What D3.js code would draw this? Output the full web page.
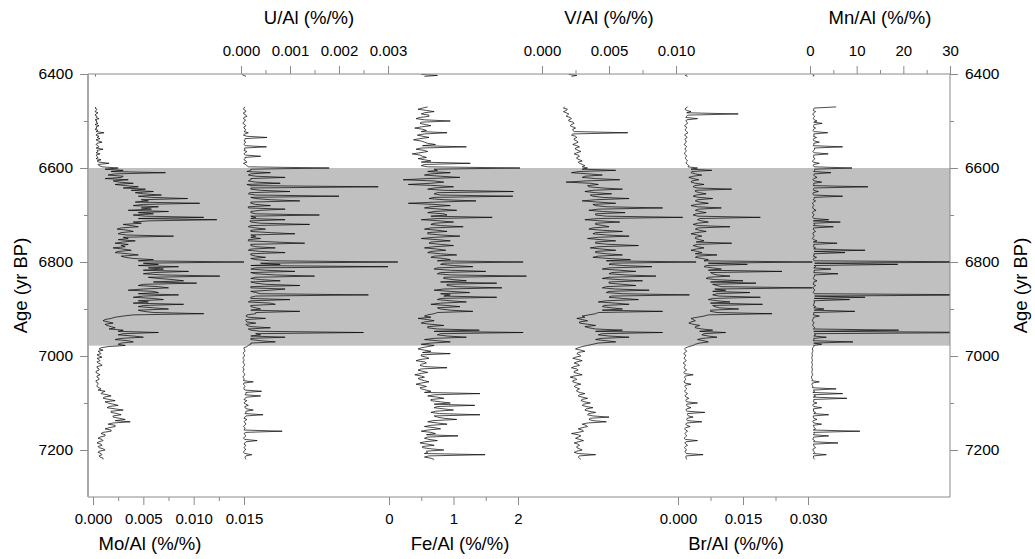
<!DOCTYPE html>
<html><head><meta charset="utf-8">
<script src="https://cdn.jsdelivr.net/npm/d3@7"></script>
<style>body{margin:0;background:#fff}</style>
</head><body><svg id="c" width="1035" height="559"></svg>
<script>
// ---------- DATA ----------
const ages = [
6470,6472.5,6475,6477.5,6480,6482.5,6485,6487.5,6490,6492.5,6495,6497.5,6500,6502.5,6505,6507.5,6510,6512.5,6515,6517.5,
6520,6522.5,6525,6527.5,6530,6532.5,6535,6537.5,6540,6542.5,6545,6547.5,6550,6552.5,6555,6557.5,6560,6562.5,6565,6567.5,
6570,6572.5,6575,6577.5,6580,6582.5,6585,6587.5,6590,6592.5,6595,6597.5,6600,6602.5,6605,6607.5,6610,6612.5,6615,6617.5,
6620,6622.5,6625,6627.5,6630,6632.5,6635,6637.5,6640,6642.5,6645,6647.5,6650,6652.5,6655,6657.5,6660,6662.5,6665,6667.5,
6670,6672.5,6675,6677.5,6680,6682.5,6685,6687.5,6690,6692.5,6695,6697.5,6700,6702.5,6705,6707.5,6710,6712.5,6715,6717.5,
6720,6722.5,6725,6727.5,6730,6732.5,6735,6737.5,6740,6742.5,6745,6747.5,6750,6752.5,6755,6757.5,6760,6762.5,6765,6767.5,
6770,6772.5,6775,6777.5,6780,6782.5,6785,6787.5,6790,6792.5,6795,6797.5,6800,6802.5,6805,6807.5,6810,6812.5,6815,6817.5,
6820,6822.5,6825,6827.5,6830,6832.5,6835,6837.5,6840,6842.5,6845,6847.5,6850,6852.5,6855,6857.5,6860,6862.5,6865,6867.5,
6870,6872.5,6875,6877.5,6880,6882.5,6885,6887.5,6890,6892.5,6895,6897.5,6900,6902.5,6905,6907.5,6910,6912.5,6915,6917.5,
6920,6922.5,6925,6927.5,6930,6932.5,6935,6937.5,6940,6942.5,6945,6947.5,6950,6952.5,6955,6957.5,6960,6962.5,6965,6967.5,
6970,6972.5,6975,6977.5,6980,6982.5,6985,6987.5,6990,6992.5,6995,6997.5,7000,7002.5,7005,7007.5,7010,7012.5,7015,7017.5,
7020,7022.5,7025,7027.5,7030,7032.5,7035,7037.5,7040,7042.5,7045,7047.5,7050,7052.5,7055,7057.5,7060,7062.5,7065,7067.5,
7070,7072.5,7075,7077.5,7080,7082.5,7085,7087.5,7090,7092.5,7095,7097.5,7100,7102.5,7105,7107.5,7110,7112.5,7115,7117.5,
7120,7122.5,7125,7127.5,7130,7132.5,7135,7137.5,7140,7142.5,7145,7147.5,7150,7152.5,7155,7157.5,7160,7162.5,7165,7167.5,
7170,7172.5,7175,7177.5,7180,7182.5,7185,7187.5,7190,7192.5,7195,7197.5,7200,7202.5,7205,7207.5,7210,7212.5,7215,7217.5,
7220];
const moAl = [
0.0003,0.0002,0.0004,0.0003,0.0002,0.0005,0.0003,0.0002,0.0004,0.0003,0.0006,0.0002,0.0004,0.0003,0.0005,0.0002,0.0006,0.0003,0.0004,0.0002,
0.0005,0.0003,0.0011,0.0004,0.0003,0.0006,0.0004,0.0007,0.0003,0.0005,0.0009,0.0004,0.0003,0.0005,0.0006,0.0003,0.0010,0.0004,0.0005,0.0003,
0.0007,0.0003,0.0004,0.0005,0.0003,0.0008,0.0004,0.0006,0.0016,0.0005,0.0006,0.0009,0.0025,0.0012,0.0030,0.0018,0.0072,0.0022,0.0015,0.0030,
0.0028,0.0012,0.0035,0.0020,0.0026,0.0040,0.0022,0.0032,0.0045,0.0030,0.0052,0.0038,0.0060,0.0042,0.0050,0.0068,0.0045,0.0058,0.0094,0.0048,
0.0055,0.0042,0.0106,0.0050,0.0040,0.0065,0.0048,0.0058,0.0035,0.0075,0.0045,0.0060,0.0040,0.0052,0.0110,0.0045,0.0123,0.0055,0.0040,0.0048,
0.0030,0.0038,0.0045,0.0028,0.0024,0.0035,0.0040,0.0028,0.0025,0.0033,0.0080,0.0030,0.0035,0.0025,0.0042,0.0030,0.0022,0.0035,0.0028,0.0032,
0.0020,0.0030,0.0038,0.0025,0.0022,0.0035,0.0045,0.0028,0.0032,0.0040,0.0060,0.0045,0.0150,0.0050,0.0065,0.0045,0.0085,0.0055,0.0070,0.0050,
0.0095,0.0060,0.0050,0.0070,0.0126,0.0055,0.0065,0.0080,0.0090,0.0060,0.0103,0.0050,0.0045,0.0065,0.0075,0.0050,0.0035,0.0060,0.0065,0.0045,
0.0085,0.0050,0.0040,0.0060,0.0070,0.0045,0.0055,0.0040,0.0090,0.0050,0.0045,0.0060,0.0075,0.0045,0.0050,0.0060,0.0110,0.0040,0.0030,0.0022,
0.0018,0.0012,0.0010,0.0015,0.0020,0.0012,0.0014,0.0018,0.0022,0.0016,0.0030,0.0025,0.0065,0.0030,0.0025,0.0040,0.0050,0.0028,0.0022,0.0035,
0.0040,0.0028,0.0025,0.0032,0.0015,0.0008,0.0006,0.0010,0.0005,0.0007,0.0008,0.0004,0.0006,0.0009,0.0004,0.0006,0.0007,0.0004,0.0005,0.0008,
0.0009,0.0004,0.0004,0.0006,0.0006,0.0003,0.0003,0.0005,0.0007,0.0004,0.0004,0.0006,0.0006,0.0003,0.0003,0.0005,0.0005,0.0004,0.0004,0.0006,
0.0008,0.0005,0.0012,0.0009,0.0008,0.0014,0.0018,0.0011,0.0010,0.0016,0.0022,0.0012,0.0015,0.0020,0.0025,0.0016,0.0014,0.0022,0.0030,0.0018,
0.0018,0.0024,0.0028,0.0020,0.0020,0.0026,0.0032,0.0022,0.0037,0.0020,0.0015,0.0022,0.0022,0.0016,0.0012,0.0018,0.0018,0.0010,0.0008,0.0012,
0.0012,0.0007,0.0005,0.0009,0.0010,0.0006,0.0004,0.0008,0.0009,0.0005,0.0006,0.0010,0.0012,0.0006,0.0005,0.0008,0.0009,0.0006,0.0007,0.0010,
0.0010];
const uAl = [
0.00008,0.00006,0.00005,0.00009,0.0001,0.00005,0.00006,0.0001,0.00012,0.00006,0.00005,0.00009,0.00008,0.00005,0.00004,0.00008,0.0001,0.00006,0.00006,0.00009,
0.00009,0.00006,0.00015,0.00008,0.00005,0.00012,0.00053,0.00008,0.00008,0.00006,0.0001,0.00007,0.00006,0.00009,0.00052,0.00007,0.00008,0.00006,0.00012,0.00008,
0.00006,0.00009,0.0004,0.00008,0.00008,0.00006,0.0001,0.00012,0.00005,0.00009,0.00012,0.00015,0.0018,0.0002,0.0002,0.00012,0.0006,0.0002,0.00015,0.0003,
0.0009,0.0002,0.0002,0.00015,0.0003,0.0008,0.00012,0.0002,0.0028,0.0002,0.0002,0.0004,0.0010,0.00018,0.00015,0.0003,0.0020,0.0002,0.0003,0.0006,
0.0012,0.0002,0.0002,0.0003,0.0006,0.00015,0.00015,0.0009,0.0004,0.0002,0.0002,0.0003,0.0016,0.0002,0.0003,0.0002,0.0009,0.00018,0.0002,0.0004,
0.0014,0.0002,0.00015,0.0003,0.0005,0.0002,0.0002,0.0006,0.0011,0.0002,0.0003,0.0002,0.0004,0.00015,0.00015,0.0007,0.0013,0.0002,0.0002,0.0003,
0.0007,0.0002,0.00015,0.0004,0.0009,0.0002,0.0002,0.0003,0.0005,0.0002,0.0003,0.0006,0.0032,0.0004,0.0008,0.0002,0.0030,0.0003,0.0002,0.0005,
0.0011,0.0002,0.0003,0.0007,0.0015,0.0003,0.0002,0.0004,0.0008,0.0002,0.0003,0.0005,0.0012,0.0002,0.0002,0.0009,0.0006,0.0002,0.0003,0.0004,
0.0026,0.0003,0.0002,0.0002,0.0010,0.0002,0.00015,0.0006,0.0007,0.0002,0.0002,0.0003,0.0004,0.0002,0.0012,0.0003,0.0003,0.00012,0.0001,0.00015,
0.0005,0.0001,0.0001,0.00012,0.0003,0.0001,0.00012,0.0002,0.0006,0.00015,0.0002,0.0004,0.0025,0.0003,0.0004,0.0002,0.0009,0.0002,0.0002,0.0004,
0.0007,0.0002,0.0002,0.00015,0.00012,0.00006,0.00006,0.00008,0.00008,0.00005,0.00005,0.00007,0.00007,0.00005,0.00004,0.00006,0.00006,0.00004,0.00005,0.00007,
0.00007,0.00005,0.00004,0.00006,0.00006,0.00004,0.00005,0.00007,0.00008,0.00005,0.00004,0.00006,0.00006,0.00005,0.00025,0.00006,0.00005,0.00007,0.00008,0.00006,
0.00006,0.00008,0.00042,0.0001,0.0001,0.00008,0.0004,0.00012,0.00008,0.00006,0.00012,0.00008,0.00006,0.0001,0.00015,0.00008,0.00008,0.00012,0.00025,0.0001,
0.0001,0.00008,0.00045,0.0001,0.00008,0.00006,0.00012,0.00008,0.00006,0.00009,0.0001,0.00007,0.00005,0.00008,0.00008,0.00006,0.00084,0.0001,0.00006,0.00008,
0.0001,0.00007,0.00005,0.00008,0.00033,0.0001,0.00008,0.00006,0.0001,0.00008,0.00006,0.00009,0.00009,0.00006,0.00005,0.00008,0.00022,0.0001,0.00008,0.00009,
0.0001];
const feAl = [
0.60,0.52,0.45,0.58,0.70,0.55,0.50,0.62,0.62,0.48,0.42,0.55,0.95,0.50,0.48,0.56,0.65,0.50,0.40,0.52,
0.58,0.50,0.90,0.55,0.44,0.52,0.62,0.48,0.38,0.50,0.55,0.60,0.72,0.52,1.20,0.50,0.42,0.55,0.60,0.48,
0.36,0.48,0.52,0.58,0.45,0.55,0.65,0.50,1.26,0.55,0.50,0.60,2.03,0.70,0.75,0.60,0.95,0.65,0.55,0.80,
1.10,0.60,0.22,0.70,0.85,0.65,0.30,0.75,1.00,0.70,0.60,0.85,1.93,0.75,0.70,0.80,1.92,0.70,0.62,0.85,
1.35,0.75,0.30,0.70,0.95,0.65,0.55,0.80,1.05,0.70,0.60,0.85,0.90,0.65,1.60,0.75,0.50,0.80,1.00,0.70,
0.65,0.80,1.15,0.65,0.55,0.75,0.90,0.60,0.60,0.80,1.10,0.70,0.50,0.75,0.95,0.65,0.62,0.80,1.00,0.70,
0.55,0.75,0.88,0.65,0.60,0.80,1.05,0.70,0.65,0.85,0.95,0.75,2.08,0.85,0.80,1.00,1.30,0.75,0.70,0.95,
1.50,0.80,0.75,0.95,2.13,0.85,0.85,1.00,1.20,0.80,1.67,0.90,0.90,1.05,1.75,0.85,0.70,0.95,1.25,0.80,
0.95,0.85,1.67,0.80,0.75,0.95,1.20,0.80,0.65,0.90,1.10,0.75,0.80,0.95,1.30,0.75,0.70,0.60,0.55,0.65,
0.45,0.60,0.70,0.55,0.50,0.65,0.85,0.60,0.60,0.75,1.40,0.70,2.08,0.80,0.75,0.90,1.20,0.70,0.55,0.75,
0.95,0.65,0.50,0.70,0.60,0.50,0.45,0.55,0.65,0.52,0.95,0.50,0.50,0.58,0.62,0.48,0.42,0.55,0.58,0.50,
0.48,0.55,0.90,0.50,0.45,0.52,0.60,0.48,0.40,0.50,0.55,0.45,0.48,0.55,0.62,0.50,0.42,0.52,0.58,0.48,
0.50,0.58,0.65,0.55,1.41,0.70,0.60,0.75,0.85,0.65,0.65,0.80,0.95,0.70,1.33,0.75,0.70,0.85,1.00,0.72,
0.65,0.78,1.41,0.70,0.75,0.85,1.05,0.68,0.60,0.75,0.90,0.65,0.55,0.70,0.80,0.60,0.50,0.65,0.72,0.58,
1.07,0.60,0.55,0.62,0.75,0.55,0.48,0.60,0.70,0.52,0.52,0.65,0.85,0.58,0.60,0.55,1.49,0.62,0.55,0.65,
0.70];
const vAl = [
0.0017,0.0016,0.0019,0.0018,0.0016,0.0018,0.0020,0.0019,0.0018,0.0021,0.0022,0.0020,0.0020,0.0023,0.0024,0.0022,0.0021,0.0023,0.0025,0.0023,
0.0023,0.0024,0.0064,0.0023,0.0022,0.0025,0.0026,0.0024,0.0024,0.0026,0.0027,0.0025,0.0023,0.0026,0.0028,0.0025,0.0025,0.0027,0.0029,0.0026,
0.0024,0.0027,0.0028,0.0026,0.0026,0.0028,0.0030,0.0027,0.0028,0.0030,0.0032,0.0030,0.0034,0.0030,0.0055,0.0028,0.0022,0.0035,0.0045,0.0032,
0.0030,0.0040,0.0058,0.0033,0.0018,0.0036,0.0042,0.0034,0.0035,0.0045,0.0060,0.0038,0.0032,0.0040,0.0052,0.0036,0.0038,0.0045,0.0065,0.0040,
0.0030,0.0042,0.0055,0.0038,0.0040,0.0048,0.0090,0.0042,0.0035,0.0045,0.0062,0.0040,0.0040,0.0048,0.0105,0.0042,0.0032,0.0044,0.0058,0.0040,
0.0040,0.0046,0.0050,0.0038,0.0035,0.0045,0.0060,0.0040,0.0038,0.0048,0.0065,0.0042,0.0034,0.0044,0.0055,0.0040,0.0040,0.0050,0.0072,0.0042,
0.0036,0.0045,0.0055,0.0040,0.0040,0.0048,0.0060,0.0042,0.0038,0.0050,0.0066,0.0048,0.0115,0.0052,0.0050,0.0060,0.0082,0.0050,0.0045,0.0058,
0.0070,0.0052,0.0050,0.0062,0.0085,0.0050,0.0045,0.0058,0.0075,0.0050,0.0050,0.0060,0.0070,0.0048,0.0045,0.0055,0.0080,0.0050,0.0048,0.0060,
0.0110,0.0052,0.0050,0.0060,0.0072,0.0048,0.0042,0.0055,0.0065,0.0046,0.0045,0.0052,0.0060,0.0045,0.0090,0.0042,0.0040,0.0035,0.0030,0.0032,
0.0026,0.0030,0.0034,0.0028,0.0028,0.0034,0.0040,0.0032,0.0035,0.0040,0.0060,0.0040,0.0090,0.0045,0.0042,0.0050,0.0065,0.0044,0.0040,0.0048,
0.0055,0.0042,0.0038,0.0034,0.0030,0.0027,0.0025,0.0029,0.0032,0.0027,0.0026,0.0028,0.0029,0.0025,0.0023,0.0027,0.0030,0.0026,0.0024,0.0027,
0.0028,0.0024,0.0022,0.0026,0.0027,0.0024,0.0024,0.0027,0.0030,0.0024,0.0021,0.0025,0.0026,0.0023,0.0023,0.0026,0.0029,0.0025,0.0024,0.0026,
0.0028,0.0026,0.0026,0.0028,0.0032,0.0028,0.0027,0.0030,0.0034,0.0030,0.0029,0.0032,0.0036,0.0031,0.0030,0.0033,0.0038,0.0033,0.0032,0.0035,
0.0040,0.0035,0.0034,0.0038,0.0050,0.0036,0.0035,0.0038,0.0048,0.0034,0.0030,0.0033,0.0034,0.0030,0.0027,0.0030,0.0031,0.0027,0.0022,0.0027,
0.0029,0.0027,0.0025,0.0028,0.0031,0.0027,0.0024,0.0027,0.0028,0.0026,0.0026,0.0028,0.0030,0.0026,0.0024,0.0027,0.0040,0.0028,0.0027,0.0028,
0.0029];
const brAl = [
0.0022,0.0018,0.0016,0.0020,0.0030,0.0020,0.0139,0.0022,0.0020,0.0018,0.0045,0.0020,0.0018,0.0021,0.0022,0.0018,0.0015,0.0019,0.0020,0.0017,
0.0017,0.0020,0.0023,0.0018,0.0015,0.0019,0.0021,0.0017,0.0016,0.0019,0.0019,0.0016,0.0014,0.0018,0.0020,0.0017,0.0016,0.0019,0.0018,0.0016,
0.0015,0.0018,0.0020,0.0017,0.0017,0.0020,0.0022,0.0019,0.0019,0.0022,0.0025,0.0023,0.0045,0.0030,0.0078,0.0032,0.0030,0.0040,0.0055,0.0035,
0.0025,0.0035,0.0048,0.0032,0.0030,0.0040,0.0060,0.0038,0.0035,0.0045,0.0124,0.0040,0.0040,0.0050,0.0065,0.0042,0.0035,0.0048,0.0080,0.0045,
0.0040,0.0050,0.0070,0.0042,0.0030,0.0045,0.0100,0.0048,0.0040,0.0050,0.0065,0.0042,0.0035,0.0046,0.0190,0.0050,0.0045,0.0055,0.0070,0.0045,
0.0035,0.0048,0.0120,0.0045,0.0040,0.0050,0.0065,0.0042,0.0030,0.0045,0.0055,0.0040,0.0040,0.0050,0.0060,0.0042,0.0124,0.0045,0.0035,0.0045,
0.0060,0.0042,0.0030,0.0045,0.0055,0.0040,0.0090,0.0045,0.0040,0.0055,0.0070,0.0060,0.0310,0.0070,0.0160,0.0065,0.0060,0.0080,0.0100,0.0070,
0.0240,0.0075,0.0080,0.0090,0.0120,0.0070,0.0065,0.0085,0.0150,0.0075,0.0180,0.0080,0.0090,0.0100,0.0310,0.0085,0.0110,0.0080,0.0166,0.0090,
0.0080,0.0095,0.0190,0.0080,0.0070,0.0090,0.0120,0.0075,0.0195,0.0080,0.0085,0.0095,0.0140,0.0075,0.0075,0.0090,0.0217,0.0070,0.0060,0.0045,
0.0030,0.0035,0.0040,0.0030,0.0025,0.0035,0.0050,0.0040,0.0040,0.0055,0.0080,0.0050,0.0110,0.0060,0.0055,0.0070,0.0090,0.0055,0.0045,0.0060,
0.0070,0.0050,0.0040,0.0035,0.0025,0.0018,0.0015,0.0018,0.0020,0.0016,0.0013,0.0017,0.0018,0.0015,0.0014,0.0017,0.0019,0.0015,0.0012,0.0016,
0.0017,0.0015,0.0014,0.0016,0.0020,0.0016,0.0013,0.0016,0.0035,0.0017,0.0015,0.0017,0.0018,0.0015,0.0014,0.0016,0.0030,0.0017,0.0016,0.0018,
0.0020,0.0017,0.0015,0.0018,0.0022,0.0018,0.0016,0.0019,0.0025,0.0019,0.0018,0.0020,0.0045,0.0020,0.0020,0.0022,0.0030,0.0020,0.0018,0.0021,
0.0062,0.0022,0.0022,0.0024,0.0035,0.0021,0.0020,0.0022,0.0055,0.0020,0.0018,0.0020,0.0028,0.0018,0.0015,0.0018,0.0022,0.0018,0.0016,0.0018,
0.0020,0.0017,0.0014,0.0017,0.0045,0.0018,0.0016,0.0018,0.0022,0.0017,0.0015,0.0017,0.0020,0.0016,0.0017,0.0019,0.0058,0.0019,0.0018,0.0019,
0.0020];
const mnAl = [
5.6,0.9,0.8,0.7,1.2,0.8,0.6,0.7,1.0,0.8,0.7,0.9,1.5,0.8,2.6,0.9,0.8,0.7,1.2,0.8,
0.6,0.9,3.8,0.8,0.9,0.7,1.4,0.8,0.7,0.9,2.0,0.8,0.8,0.7,7.0,0.9,1.0,0.8,0.6,0.9,
3.9,0.8,0.8,0.7,1.1,0.8,0.5,0.7,2.0,0.8,0.7,0.9,9.0,1.0,1.0,0.8,4.5,0.9,0.8,1.0,
1.5,0.8,0.6,0.9,2.5,0.8,0.8,0.7,12.4,0.9,0.7,0.8,1.8,0.7,0.6,0.8,7.0,0.9,0.9,0.7,
1.2,0.8,0.5,0.7,0.8,0.6,0.6,0.8,1.3,0.7,0.5,0.7,0.9,0.6,0.6,0.8,4.0,0.7,6.5,0.8,
1.0,0.7,5.0,0.8,0.7,0.9,1.2,0.7,0.6,0.8,0.9,0.7,0.5,0.8,1.5,0.7,5.8,0.8,0.8,0.7,
1.2,0.8,11.8,0.9,7.5,0.8,0.9,0.7,1.4,0.8,0.7,0.9,40,1.0,18.8,0.9,1.2,0.8,4.5,0.9,
0.9,0.8,6.0,0.9,1.0,0.8,0.7,0.9,1.5,0.8,0.8,0.7,1.2,0.8,0.6,0.9,1.0,0.8,0.7,0.9,
40,1.0,11.8,0.9,8.5,0.8,1.0,0.9,0.8,0.7,1.2,0.8,3.0,0.9,9.6,0.8,0.8,0.7,2.0,0.8,
0.7,0.6,0.5,0.7,0.9,0.6,0.6,0.8,1.0,0.7,19.0,0.8,40,0.9,1.2,0.8,3.5,0.8,0.8,0.7,
9.2,0.8,2.5,0.8,0.8,0.6,0.5,0.6,0.6,0.5,0.4,0.5,0.5,0.4,0.4,0.5,0.5,0.4,0.4,0.5,
0.5,0.4,0.4,0.5,0.5,0.4,0.4,0.5,0.6,0.4,0.3,0.4,0.5,0.4,2.0,0.5,0.4,0.5,0.6,0.5,
5.6,0.7,1.0,0.6,7.0,0.8,1.2,0.7,7.9,0.8,0.8,0.7,1.5,0.7,0.6,0.8,2.5,0.7,0.8,0.7,
1.2,0.8,4.0,0.7,0.7,0.8,1.5,0.7,0.6,0.8,2.5,0.7,0.8,0.9,1.2,0.7,10.7,0.8,0.9,0.7,
4.0,0.8,0.7,0.6,1.0,0.8,6.0,0.7,0.8,0.9,1.2,0.7,0.6,0.8,1.0,0.7,3.5,0.8,0.7,0.8,
1.0];
// isolated samples at the top of the record
const topAges = [6401, 6403, 6405];
const moTop = [0.0002, 0.0003, 0.0002];
const uTop  = [0.00002, 0.00006, 0.0001];
const feTop = [0.50, 0.75, 0.55];
const vTop  = [0.0020, 0.0026, 0.0022];
const brTop = [0.0020, 0.0017, 0.0022];
const mnTop = [0.5, 0.9, 0.6];

const bandAges = [6600, 6978];
const ageMajor = [6400, 6600, 6800, 7000, 7200];
const ageMinor = [6500, 6700, 6900, 7100];

const moTicks = [0, 0.005, 0.010, 0.015];
const uTicks  = [0, 0.001, 0.002, 0.003];
const feTicks = [0, 1, 2];
const vTicks  = [0, 0.005, 0.010];
const brTicks = [0, 0.015, 0.030];
const mnTicks = [0, 10, 20, 30];

// ---------- LAYOUT ----------
const FONT = "'Liberation Sans', Arial, Helvetica, sans-serif";
const L = 88, R = 950, T = 74, B = 497;
const svg = d3.select('#c');
svg.append('rect').attr('width', 1035).attr('height', 559).attr('fill', '#fff');
const y = d3.scaleLinear().domain([6400, 7300]).range([T, B]);

const series = [
  {title: 'Mo/Al (%/%)', vals: moAl, top: moTop, domain: [0, 0.015], range: [93, 244], side: 'bottom', ticks: moTicks, minorStep: 0.0025, fmt: d3.format('.3f'), titleX: 150},
  {title: 'U/Al (%/%)',  vals: uAl,  top: uTop,  domain: [0, 0.003], range: [241, 388], side: 'top', ticks: uTicks, minorStep: 0.0005, fmt: d3.format('.3f'), titleX: 309},
  {title: 'Fe/Al (%/%)', vals: feAl, top: feTop, domain: [0, 2], range: [389, 518], side: 'bottom', ticks: feTicks, minorStep: 0.5, fmt: d3.format('d'), titleX: 460},
  {title: 'V/Al (%/%)',  vals: vAl,  top: vTop,  domain: [0, 0.010], range: [542, 676], side: 'top', ticks: vTicks, minorStep: 0.0025, fmt: d3.format('.3f'), titleX: 609},
  {title: 'Br/Al (%/%)', vals: brAl, top: brTop, domain: [0, 0.030], range: [678, 808], side: 'bottom', ticks: brTicks, minorStep: 0.0075, fmt: d3.format('.3f'), titleX: 736},
  {title: 'Mn/Al (%/%)', vals: mnAl, top: mnTop, domain: [0, 30], range: [810, 950], side: 'top', ticks: mnTicks, minorStep: 5, fmt: d3.format('d'), titleX: 880}
];

// gray band
svg.append('rect')
  .attr('x', L).attr('width', R - L)
  .attr('y', y(bandAges[0])).attr('height', y(bandAges[1]) - y(bandAges[0]))
  .attr('fill', '#c0c0c0');

// traces
svg.append('clipPath').attr('id', 'clip').append('rect')
  .attr('x', L).attr('y', T).attr('width', R - L).attr('height', B - T);
const g = svg.append('g').attr('clip-path', 'url(#clip)');
series.forEach(s => {
  s.x = d3.scaleLinear().domain(s.domain).range(s.range);
  const line = d3.line().x(d => s.x(d[1])).y(d => y(d[0]));
  const n = Math.min(ages.length, s.vals.length);
  const pts = d3.range(n).map(i => [ages[i], s.vals[i]]);
  g.append('path').attr('d', line(pts)).attr('fill', 'none')
    .attr('stroke', '#000').attr('stroke-width', 0.7).attr('stroke-linejoin', 'bevel');
  const tp = topAges.map((a, i) => [a, s.top[i]]);
  g.append('path').attr('d', line(tp)).attr('fill', 'none')
    .attr('stroke', '#000').attr('stroke-width', 0.7);
});

// frame
const frameColor = '#8a8a8a';
svg.append('line').attr('x1', L).attr('x2', R).attr('y1', T).attr('y2', T).attr('stroke', frameColor);
svg.append('line').attr('x1', L).attr('x2', R).attr('y1', B).attr('y2', B).attr('stroke', frameColor);
svg.append('line').attr('x1', L).attr('x2', L).attr('y1', T).attr('y2', B).attr('stroke', '#a8a8a8').attr('stroke-width', 2);
svg.append('line').attr('x1', R).attr('x2', R).attr('y1', T).attr('y2', B).attr('stroke', frameColor);

function styleAxis(sel) {
  sel.select('.domain').remove();
  sel.selectAll('line').attr('stroke', frameColor);
  sel.selectAll('text').attr('font-family', FONT).attr('fill', '#000');
}

// age axes
const ly = svg.append('g').attr('transform', `translate(${L},0)`)
  .call(d3.axisLeft(y).tickValues(ageMajor).tickSize(8).tickPadding(7).tickFormat(d3.format('d')));
styleAxis(ly); ly.selectAll('text').attr('font-size', 15.5);
const lym = svg.append('g').attr('transform', `translate(${L},0)`)
  .call(d3.axisLeft(y).tickValues(ageMinor).tickSize(4).tickFormat(''));
styleAxis(lym);
const ry = svg.append('g').attr('transform', `translate(${R},0)`)
  .call(d3.axisRight(y).tickValues(ageMajor).tickSize(8).tickPadding(7).tickFormat(d3.format('d')));
styleAxis(ry); ry.selectAll('text').attr('font-size', 15.5);
const rym = svg.append('g').attr('transform', `translate(${R},0)`)
  .call(d3.axisRight(y).tickValues(ageMinor).tickSize(4).tickFormat(''));
styleAxis(rym);

svg.append('text').attr('transform', `translate(21,${(T + B) / 2}) rotate(-90)`)
  .attr('text-anchor', 'middle').attr('dy', '0.35em').attr('font-family', FONT).attr('font-size', 18.5).text('Age (yr BP)');
svg.append('text').attr('transform', `translate(1021,${(T + B) / 2}) rotate(-90)`)
  .attr('text-anchor', 'middle').attr('dy', '0.35em').attr('font-family', FONT).attr('font-size', 18.5).text('Age (yr BP)');

// element axes
series.forEach(s => {
  const isTop = s.side === 'top';
  const yPos = isTop ? T : B;
  const mk = isTop ? d3.axisTop : d3.axisBottom;
  const minorVals = d3.range(s.domain[0], s.domain[1] + s.minorStep / 2, s.minorStep)
    .filter(v => !s.ticks.some(t => Math.abs(t - v) < s.minorStep / 10));
  const gm = svg.append('g').attr('transform', `translate(0,${yPos})`)
    .call(mk(s.x).tickValues(minorVals).tickSize(4).tickFormat(''));
  styleAxis(gm);
  const ga = svg.append('g').attr('transform', `translate(0,${yPos})`)
    .call(mk(s.x).tickValues(s.ticks).tickSize(8).tickPadding(isTop ? 10 : 8).tickFormat(s.fmt));
  styleAxis(ga); ga.selectAll('text').attr('font-size', 15);
  svg.append('text').attr('x', s.titleX).attr('y', isTop ? 24 : 550)
    .attr('text-anchor', 'middle').attr('font-family', FONT).attr('font-size', 18.5).text(s.title);
});
</script></body></html>
